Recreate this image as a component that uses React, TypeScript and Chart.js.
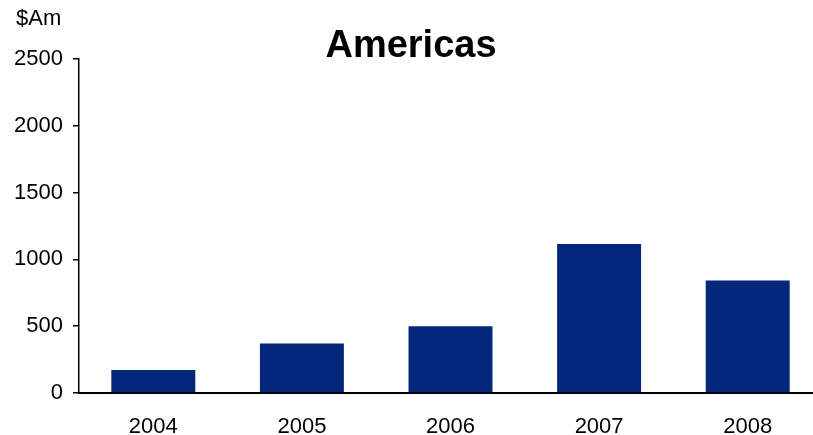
import React, { useEffect, useRef } from "react";
import { Chart, registerables } from "chart.js";

Chart.register(...registerables);

const categories = ["2004", "2005", "2006", "2007", "2008"];
const values = [172, 370, 500, 1115, 842];
const yTicks = [0, 500, 1000, 1500, 2000, 2500];
const titleText = "Americas";
const unitText = "$Am";

const textPlugin = {
  id: "textPlugin",
  afterDraw(chart: any) {
    const ctx = chart.ctx;
    ctx.save();
    ctx.fillStyle = "#000";
    ctx.font = "bold 38px 'Liberation Sans', Arial, sans-serif";
    ctx.textAlign = "center";
    ctx.textBaseline = "alphabetic";
    ctx.fillText(titleText, 411, 57);
    ctx.font = "22px 'Liberation Sans', Arial, sans-serif";
    ctx.textAlign = "left";
    ctx.textBaseline = "middle";
    ctx.fillText(unitText, 16, 19);
    ctx.restore();
  },
};

export default function App() {
  const ref = useRef<HTMLCanvasElement>(null);
  useEffect(() => {
    if (!ref.current) return;
    const chart = new Chart(ref.current, {
      type: "bar",
      data: {
        labels: categories,
        datasets: [
          {
            data: values,
            backgroundColor: "#03277a",
            borderWidth: 0,
            barPercentage: 0.565,
            categoryPercentage: 1,
          },
        ],
      },
      options: {
        animation: false,
        responsive: false,
        maintainAspectRatio: false,
        layout: { padding: { top: 59, left: 0, right: 0, bottom: 0 } },
        plugins: { legend: { display: false }, tooltip: { enabled: false }, title: { display: false } },
        scales: {
          x: {
            grid: { display: false },
            border: { display: true, color: "#000", width: 2 },
            ticks: {
              color: "#000",
              font: { family: "'Liberation Sans', Arial, sans-serif", size: 22 },
              padding: 13,
            },
            afterFit(scale: any) {
              scale.height = 42;
            },
          },
          y: {
            min: 0,
            max: 2500,
            afterBuildTicks(scale: any) {
              scale.ticks = yTicks.map((v) => ({ value: v }));
            },
            grid: { drawOnChartArea: false, drawTicks: true, tickLength: 6, color: "#000", lineWidth: 1.5 },
            border: { display: true, color: "#000", width: 1.5 },
            ticks: {
              color: "#000",
              font: { family: "'Liberation Sans', Arial, sans-serif", size: 22 },
              padding: 10,
              callback: (v: any) => String(v),
            },
            afterFit(scale: any) {
              scale.width = 79;
            },
          },
        },
      },
      plugins: [textPlugin],
    });
    return () => chart.destroy();
  }, []);
  return (
    <div style={{ position: "absolute", left: 0, top: 0, width: 813, height: 435, overflow: "hidden" }}>
      <canvas ref={ref} width={822} height={435} style={{ width: 822, height: 435, display: "block" }} />
    </div>
  );
}
